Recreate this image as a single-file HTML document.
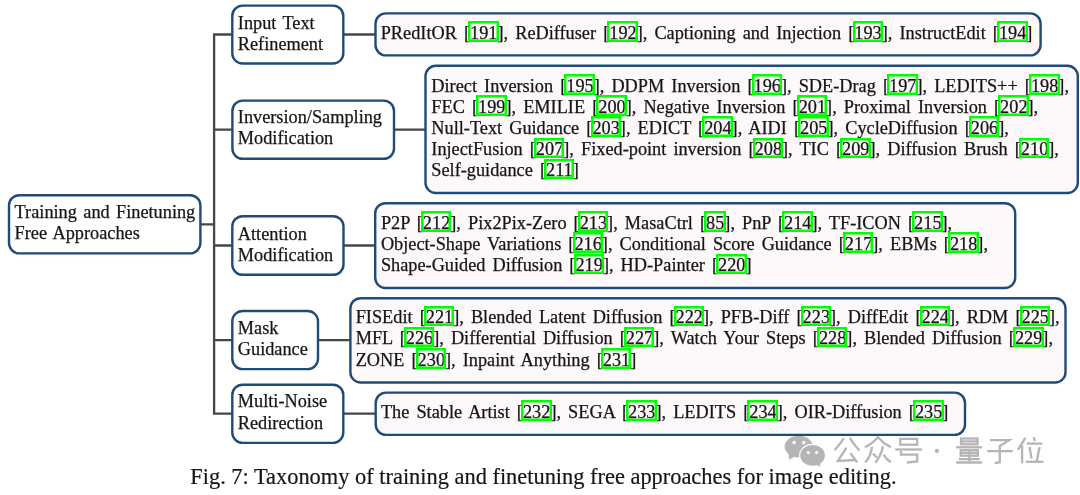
<!DOCTYPE html>
<html><head><meta charset="utf-8">
<style>
html,body{margin:0;padding:0;background:#fff;}
body{width:1080px;height:495px;position:relative;overflow:hidden;font-family:"Liberation Serif",serif;color:#151515;}
.t{position:absolute;font-size:18.3px;line-height:21.2px;white-space:nowrap;word-spacing:2.5px;-webkit-text-stroke:0.25px #151515;}
.ct{word-spacing:1.8px;}
.c{position:relative;}
.c::after{content:"";position:absolute;left:-1.8px;right:-1.2px;top:-1.6px;bottom:1px;border:2px solid #00ff00;box-shadow:inset 0 0 0 0.5px #00ff00;}
.cap{position:absolute;-webkit-text-stroke:0.2px #151515;font-size:22.4px;line-height:26px;white-space:nowrap;left:190.3px;top:464px;}
</style></head><body><div id="w" style="position:absolute;left:0;top:0;width:1080px;height:495px;filter:blur(0.3px)">
<!-- connectors -->
<svg style="position:absolute;left:0;top:0" width="1080" height="495" viewBox="0 0 1080 495">
<path d="M214.1 33.3 V414.8 M200.4 224.3 H214.1 M214.1 34.5 H232.3 M214.1 129.7 H232.3 M214.1 245.5 H232.3 M214.1 340.1 H232.3 M214.1 413.6 H232.3 M343.3 34.5 H375.5 M394.0 129.7 H425.5 M343.5 245.5 H375.2 M318.0 340.1 H350.4 M343.3 413.6 H375.7" stroke="#474747" stroke-width="2.3" fill="none"/>
<g stroke="#1e4b78" stroke-width="2.4">
<rect x="9.0" y="195.2" width="191.4" height="58.2" rx="10.3" fill="#fff"/>
<rect x="232.3" y="5.6" width="111.0" height="57.9" rx="10.3" fill="#fff"/>
<rect x="232.4" y="100.6" width="161.6" height="58.2" rx="10.3" fill="#fff"/>
<rect x="232.3" y="216.2" width="111.2" height="58.6" rx="10.3" fill="#fff"/>
<rect x="232.3" y="311.0" width="85.7" height="58.1" rx="10.3" fill="#fff"/>
<rect x="232.3" y="384.7" width="111.0" height="58.2" rx="10.3" fill="#fff"/>
<rect x="375.5" y="13.4" width="665.1" height="42.0" rx="10.3" fill="#fdf8fa"/>
<rect x="425.5" y="65.8" width="652.3" height="127.2" rx="10.3" fill="#fdf8fa"/>
<rect x="375.2" y="203.2" width="640.0" height="84.8" rx="10.3" fill="#fdf8fa"/>
<rect x="350.4" y="298.2" width="715.1" height="84.3" rx="10.3" fill="#fdf8fa"/>
<rect x="375.7" y="392.6" width="589.3" height="42.3" rx="10.3" fill="#fdf8fa"/>
</g>
</svg>

<!-- root -->
<div class="t ct" style="left:14.6px;top:201.8px">Training and Finetuning<br>Free Approaches</div>

<!-- categories -->
<div class="t ct" style="left:237.8px;top:12.6px">Input Text<br>Refinement</div>
<div class="t ct" style="left:237.8px;top:106.8px">Inversion/Sampling<br>Modification</div>
<div class="t ct" style="left:237.8px;top:223.8px">Attention<br>Modification</div>
<div class="t ct" style="left:237.8px;top:318.0px">Mask<br>Guidance</div>
<div class="t ct" style="left:237.8px;top:391.4px">Multi-Noise<br>Redirection</div>

<!-- leaves -->
<div class="t" style="left:380.7px;top:23.0px">PRedItOR [<span class="c">191</span>], ReDiffuser [<span class="c">192</span>], Captioning and Injection [<span class="c">193</span>], InstructEdit [<span class="c">194</span>]</div>

<div class="t" style="left:431.3px;top:75.5px">Direct Inversion [<span class="c">195</span>], DDPM Inversion [<span class="c">196</span>], SDE-Drag [<span class="c">197</span>], LEDITS++ [<span class="c">198</span>],<br>FEC [<span class="c">199</span>], EMILIE [<span class="c">200</span>], Negative Inversion [<span class="c">201</span>], Proximal Inversion [<span class="c">202</span>],<br>Null-Text Guidance [<span class="c">203</span>], EDICT [<span class="c">204</span>], AIDI [<span class="c">205</span>], CycleDiffusion [<span class="c">206</span>],<br>InjectFusion [<span class="c">207</span>], Fixed-point inversion [<span class="c">208</span>], TIC [<span class="c">209</span>], Diffusion Brush [<span class="c">210</span>],<br>Self-guidance [<span class="c">211</span>]</div>

<div class="t" style="left:380.9px;top:212.8px">P2P [<span class="c">212</span>], Pix2Pix-Zero [<span class="c">213</span>], MasaCtrl [<span class="c">85</span>], PnP [<span class="c">214</span>], TF-ICON [<span class="c">215</span>],<br>Object-Shape Variations [<span class="c">216</span>], Conditional Score Guidance [<span class="c">217</span>], EBMs [<span class="c">218</span>],<br>Shape-Guided Diffusion [<span class="c">219</span>], HD-Painter [<span class="c">220</span>]</div>

<div class="t" style="left:355.7px;top:307.1px">FISEdit [<span class="c">221</span>], Blended Latent Diffusion [<span class="c">222</span>], PFB-Diff [<span class="c">223</span>], DiffEdit [<span class="c">224</span>], RDM [<span class="c">225</span>],<br>MFL [<span class="c">226</span>], Differential Diffusion [<span class="c">227</span>], Watch Your Steps [<span class="c">228</span>], Blended Diffusion [<span class="c">229</span>],<br>ZONE [<span class="c">230</span>], Inpaint Anything [<span class="c">231</span>]</div>

<div class="t" style="left:380.9px;top:401.8px">The Stable Artist [<span class="c">232</span>], SEGA [<span class="c">233</span>], LEDITS [<span class="c">234</span>], OIR-Diffusion [<span class="c">235</span>]</div>

<div class="cap">Fig. 7: Taxonomy of training and finetuning free approaches for image editing.</div>
<svg style="position:absolute;left:0;top:0" width="1080" height="495" viewBox="0 0 1080 495">
<g opacity="0.29">
<g fill="#000">
<ellipse cx="798.8" cy="446.6" rx="14.2" ry="10.8"/>
<path d="M788.5 454 L789.2 459.8 L795.5 456 Z"/>
</g>
<ellipse cx="812.6" cy="455.4" rx="13.6" ry="11.7" fill="#fff"/>
<g fill="#000">
<ellipse cx="812.6" cy="455.4" rx="12.3" ry="10.4"/>
<path d="M815 464 L820.5 466.8 L819.5 461 Z"/>
</g>
<g fill="#fff">
<circle cx="794.2" cy="442.6" r="1.8"/><circle cx="803.8" cy="442.6" r="1.8"/>
<circle cx="808.4" cy="452.6" r="1.55"/><circle cx="816.7" cy="452.6" r="1.55"/>
</g>
<g fill="none" stroke="#000" stroke-width="2.3" stroke-linecap="butt" stroke-linejoin="miter">
<!-- gong -->
<path d="M843.9 438.2 Q840 444.5 834.5 450.2"/>
<path d="M849.7 437.9 Q854 444.5 859.4 450.5"/>
<path d="M846.5 447.6 L837.8 461 L855.5 460"/>
<path d="M850.4 453.1 L857.2 462.5"/>
<!-- zhong -->
<path d="M864.9 447.3 Q873 443 877.9 437.2 Q883 443 890.8 447.3"/>
<path d="M872 446.6 Q871 456 865.3 462.5"/>
<path d="M873 453.4 L876.9 457.8"/>
<path d="M883 446.3 Q881 456 875.3 462.8"/>
<path d="M883.7 454.7 Q886 459 890.8 462.3"/>
<!-- hao -->
<rect x="900.3" y="438.9" width="16.9" height="5.8"/>
<path d="M895.2 449.5 H922"/>
<path d="M901 450.8 V454.7 H917.2 V461.5 L906.8 462.5"/>
<!-- liang -->
<rect x="961" y="438.5" width="16.5" height="5.8"/>
<path d="M961 441.4 H977.5"/>
<path d="M956.1 447.3 H982"/>
<rect x="960.7" y="450.2" width="17.1" height="5.5"/>
<path d="M960.7 452.9 H977.8 M969.4 450.2 V462.5 M958.7 459.2 H979.8 M956.1 462.5 H982"/>
<!-- zi -->
<path d="M990.1 440.1 H1009.2 L999.8 446 V462.3 L994.6 463.2"/>
<path d="M987.2 451.1 H1012.7"/>
<!-- wei -->
<path d="M1025.4 437.9 L1017.9 449.8"/>
<path d="M1022.1 445.3 V463.4"/>
<path d="M1033.5 437.2 L1035.1 441.1"/>
<path d="M1027 443.6 H1042.4"/>
<path d="M1029.6 446.9 L1031.5 458.6"/>
<path d="M1039.6 446.9 L1036.7 461.2"/>
<path d="M1025.7 461.8 H1043.5"/>
</g>
<circle cx="936.9" cy="450.9" r="2.1" fill="#000"/>
</g>
</svg>
</div></body></html>
